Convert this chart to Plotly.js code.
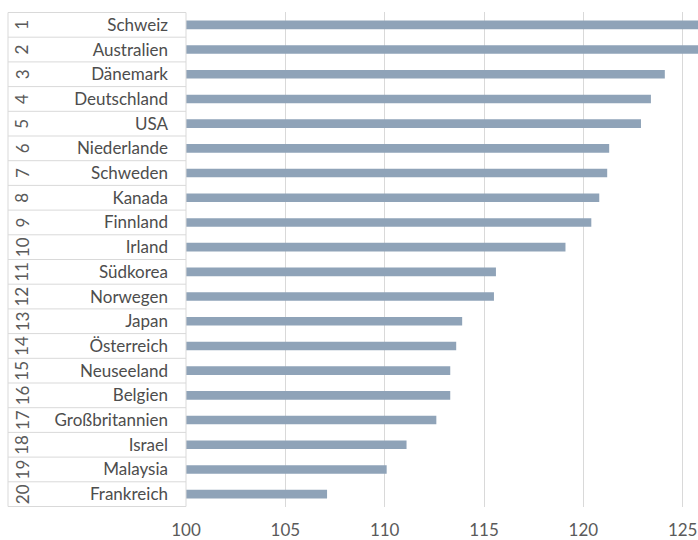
<!DOCTYPE html>
<html>
<head>
<meta charset="utf-8">
<script src="https://cdn.plot.ly/plotly-3.0.1.min.js"></script>
<style>
  html, body { margin: 0; padding: 0; background: #ffffff; }
  #chart { width: 698px; height: 540px; }
</style>
</head>
<body>
<div id="chart"></div>
<script>
// Rankings, country names and index values
const ranks = [1, 2, 3, 4, 5, 6, 7, 8, 9, 10, 11, 12, 13, 14, 15, 16, 17, 18, 19, 20];
const countries = [
  'Schweiz', 'Australien', 'Dänemark', 'Deutschland', 'USA',
  'Niederlande', 'Schweden', 'Kanada', 'Finnland', 'Irland',
  'Südkorea', 'Norwegen', 'Japan', 'Österreich', 'Neuseeland',
  'Belgien', 'Großbritannien', 'Israel', 'Malaysia', 'Frankreich'
];
const values = [
  126.5, 126.2, 124.1, 123.4, 122.9,
  121.3, 121.2, 120.8, 120.4, 119.1,
  115.6, 115.5, 113.9, 113.6, 113.3,
  113.3, 112.6, 111.1, 110.1, 107.1
];
const xTicks = [100, 105, 110, 115, 120, 125];

const FONT = 'Lato, "Open Sans", sans-serif';
const GRID = '#d9d9d9';
const TEXT = '#4d4d4d';

// left edge of the rank/name table, in paper units of the x axis
const tableLeft = (8 - 186) / 512;
const rankX = (22 - 186) / 512;

const shapes = [];
for (let i = 0; i <= countries.length; i++) {
  shapes.push({
    type: 'line', xref: 'paper', yref: 'y',
    x0: tableLeft, x1: 0, y0: i - 0.5, y1: i - 0.5,
    line: { color: GRID, width: 1 }
  });
}
shapes.push({
  type: 'line', xref: 'paper', yref: 'y',
  x0: tableLeft, x1: tableLeft, y0: -0.5, y1: countries.length - 0.5,
  line: { color: GRID, width: 1 }
});
shapes.push({
  type: 'line', xref: 'paper', yref: 'y',
  x0: 0, x1: 0, y0: -0.5, y1: countries.length - 0.5,
  line: { color: GRID, width: 1 }
});

const annotations = countries.map((c, i) => ({
  xref: 'paper', yref: 'y',
  x: rankX, y: c,
  text: String(ranks[i]),
  textangle: -90,
  showarrow: false,
  xanchor: 'center', yanchor: 'middle',
  font: { family: FONT, size: 17, color: '#5a5a5a' }
}));

const trace = {
  type: 'bar',
  orientation: 'h',
  y: countries,
  x: values.map(v => v - 100),
  base: 100,
  width: 0.35,
  marker: { color: '#8fa3b8', line: { width: 0 } },
  hoverinfo: 'skip'
};

const layout = {
  width: 698,
  height: 540,
  margin: { l: 186, r: 0, t: 12, b: 33, pad: 0 },
  paper_bgcolor: '#ffffff',
  plot_bgcolor: '#ffffff',
  showlegend: false,
  font: { family: FONT, size: 17, color: TEXT },
  xaxis: {
    range: [100, 125.77],
    tickvals: xTicks,
    ticktext: xTicks.map(String),
    showgrid: true,
    gridcolor: GRID,
    gridwidth: 1,
    zeroline: false,
    showline: false,
    ticks: '',
    ticklabelstandoff: 11,
    tickfont: { family: FONT, size: 17, color: '#5a5a5a' }
  },
  yaxis: {
    type: 'category',
    categoryorder: 'array',
    categoryarray: countries,
    autorange: 'reversed',
    showgrid: false,
    zeroline: false,
    showline: false,
    ticks: '',
    ticklabelstandoff: 17,
    tickfont: { family: FONT, size: 17, color: TEXT }
  },
  shapes: shapes,
  annotations: annotations
};

Plotly.newPlot('chart', [trace], layout, { staticPlot: true, displayModeBar: false });
</script>
</body>
</html>
